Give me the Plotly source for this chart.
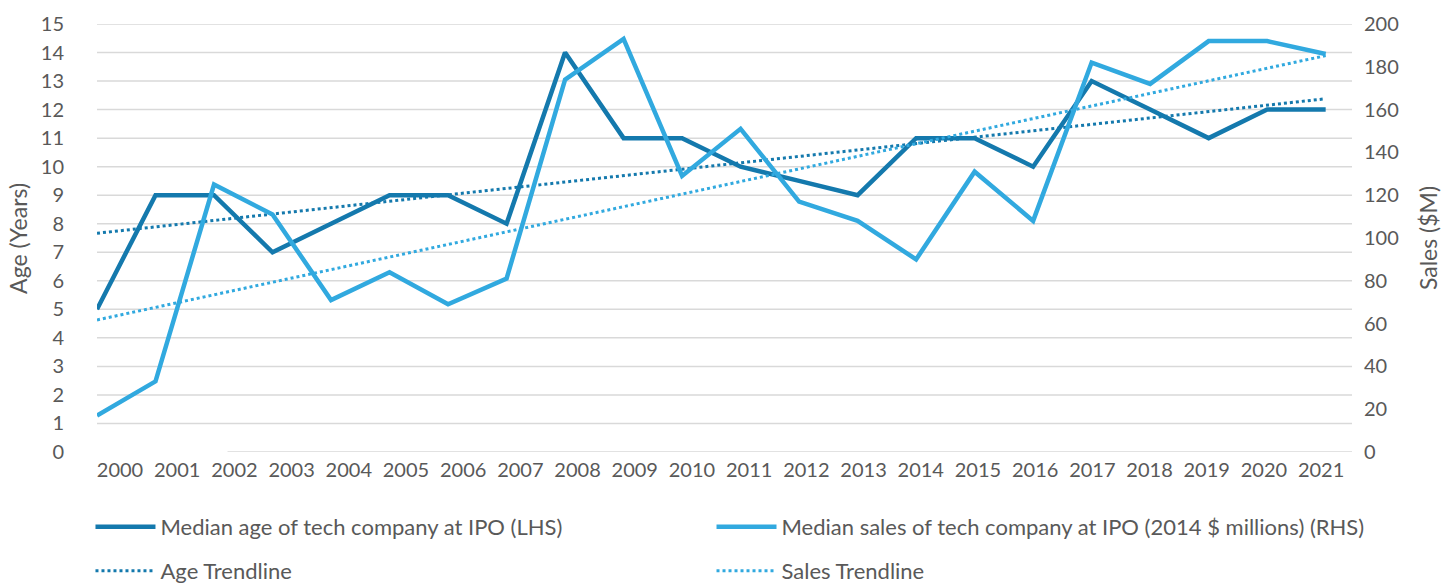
import numpy as np
import plotly.graph_objects as go

years = [str(y) for y in range(2000, 2022)]
age = [5, 9, 9, 7, 8, 9, 9, 8, 14, 11, 11, 10, 9.5, 9, 11, 11, 10, 13, 12, 11, 12, 12]
sales = [17, 33, 125, 111, 71, 84, 69, 81, 174, 193, 129, 151, 117, 108, 90, 131, 108, 182, 172, 192, 192, 186]
left_ticks = list(range(0, 16))
right_ticks = list(range(0, 201, 20))

DARK = "#1479AD"
LIGHT = "#31A9DF"
GRID = "#D9D9D9"
TXT = "#595959"
FONT = "Lato"

idx = np.arange(len(years))
age_fit = np.polyval(np.polyfit(idx, age, 1), idx)
sales_fit = np.polyval(np.polyfit(idx, sales, 1), idx)

fig = go.Figure()
fig.add_trace(go.Scatter(x=idx, y=age, mode="lines", name="Median age of tech company at IPO (LHS)",
                         line=dict(color=DARK, width=4.5), yaxis="y", legend="legend"))
fig.add_trace(go.Scatter(x=idx, y=sales, mode="lines",
                         name="Median sales of tech company at IPO (2014 $ millions) (RHS)",
                         line=dict(color=LIGHT, width=4.5), yaxis="y2", legend="legend2"))
fig.add_trace(go.Scatter(x=idx, y=age_fit, mode="lines", name="Age Trendline",
                         line=dict(color=DARK, width=3, dash="dot"), yaxis="y", legend="legend3"))
fig.add_trace(go.Scatter(x=idx, y=sales_fit, mode="lines", name="Sales Trendline",
                         line=dict(color=LIGHT, width=3, dash="dot"), yaxis="y2", legend="legend4"))
# invisible trace carrying the category label axis
fig.add_trace(go.Scatter(x=idx, y=age, mode="markers", marker=dict(opacity=0), xaxis="x2",
                         showlegend=False, hoverinfo="skip"))

# gridlines (from left axis ticks)
shapes = []
for v in left_ticks:
    shapes.append(dict(type="line", xref="paper", yref="y", x0=0.104 if v == 0 else 0, x1=1,
                       y0=v, y1=v, line=dict(color=GRID, width=1.5), layer="below"))

legend_common = dict(orientation="h", xref="container", yref="container", xanchor="left",
                     yanchor="middle", itemwidth=60,
                     font=dict(family=FONT, size=22, color=TXT), bgcolor="rgba(0,0,0,0)")
COL1, COL2 = 0.0624, 0.4907
ROW1, ROW2 = 1 - 527 / 584, 1 - 571 / 584

fig.update_layout(
    width=1450, height=584,
    margin=dict(l=97, r=98, t=24, b=132, autoexpand=False),
    plot_bgcolor="white", paper_bgcolor="white",
    font=dict(family=FONT, size=20, color=TXT),
    hovermode=False,
    shapes=shapes,
    xaxis=dict(range=[0, 21.45], showgrid=False, zeroline=False, showticklabels=False, showline=False,
               automargin=False),
    xaxis2=dict(range=[-0.402, 21.54], overlaying="x", anchor="y", side="bottom",
                tickmode="array", tickvals=list(idx), ticktext=years, showgrid=False,
                zeroline=False, showline=False, ticks="", ticklabelstandoff=4, automargin=False,
                tickfont=dict(family=FONT, size=20, color=TXT)),
    yaxis=dict(range=[0, 15], tickvals=left_ticks, showgrid=False, zeroline=False, showline=False,
               ticks="", ticklabelstandoff=32, automargin=False,
               tickfont=dict(family=FONT, size=20, color=TXT)),
    yaxis2=dict(range=[0, 200], tickvals=right_ticks, overlaying="y", side="right", showgrid=False,
                zeroline=False, showline=False, ticks="", ticklabelstandoff=11, automargin=False,
                tickfont=dict(family=FONT, size=20, color=TXT)),
    legend=dict(x=COL1, y=ROW1, **legend_common),
    legend2=dict(x=COL2, y=ROW1, **legend_common),
    legend3=dict(x=COL1, y=ROW2, **legend_common),
    legend4=dict(x=COL2, y=ROW2, **legend_common),
    annotations=[
        dict(text="Age (Years)", xref="paper", yref="paper", x=-0.063, y=0.5, textangle=-90,
             showarrow=False, xanchor="center", yanchor="middle", font=dict(family=FONT, size=23, color=TXT)),
        dict(text="Sales ($M)", xref="paper", yref="paper", x=1.0606, y=0.5, textangle=-90,
             showarrow=False, xanchor="center", yanchor="middle", font=dict(family=FONT, size=23, color=TXT)),
    ],
)

fig.write_html("out.html", config={"displayModeBar": False},
               post_script="document.body.style.margin='0';document.body.style.padding='0';"
                           "document.documentElement.style.overflow='hidden';")
